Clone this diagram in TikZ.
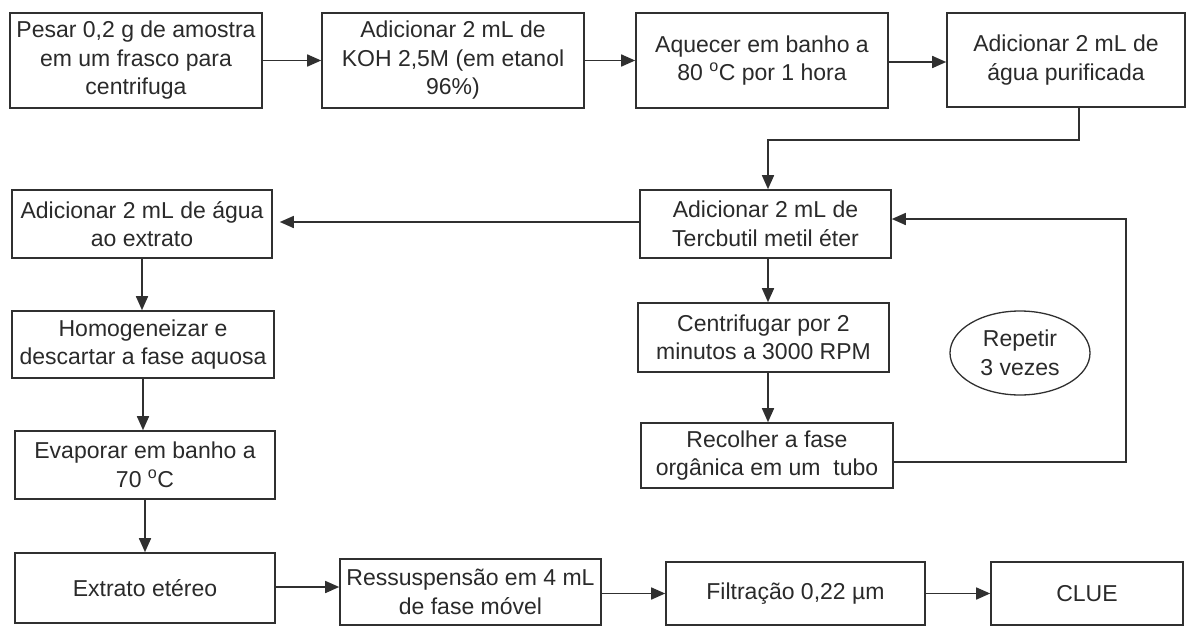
\documentclass[tikz,border=0pt]{standalone}
\usepackage{fontspec}
\setmainfont{Liberation Sans}
\usetikzlibrary{arrows.meta,shapes.geometric,calc}
\definecolor{linegray}{HTML}{303030}
\definecolor{textgray}{HTML}{2A2A2A}
\tikzset{
  stepbox/.style={draw=linegray, line width=1.6pt, rectangle, align=center, inner sep=0pt,
    text=textgray, font=\fontsize{23}{28.5}\selectfont},
  loopnote/.style={draw=linegray, line width=1.3pt, ellipse, align=center, inner sep=0pt,
    text=textgray, font=\fontsize{23}{28.5}\selectfont, minimum width=140pt, minimum height=84pt},
  arr/.style={draw=linegray, line width=1.6pt, -{Triangle[length=14pt,width=12pt]}},
  ln/.style={draw=linegray, line width=1.6pt}
}
\begin{document}
\begin{tikzpicture}[x=1pt,y=-1pt]
\useasboundingbox[fill=white] (0,0) rectangle (1187,627);
% row 1
\node[stepbox, minimum width=252pt, minimum height=95pt] (b1) at (136,60.5) {Pesar 0,2 g de amostra\\em um frasco para\\centrifuga};
\node[stepbox, minimum width=262pt, minimum height=95pt] (b2) at (453,60.5) {Adicionar 2 mL de\\KOH 2,5M (em etanol\\96\%)};
\node[stepbox, minimum width=252pt, minimum height=95pt] (b3) at (762,60.5) {Aquecer em banho a\\80 \textsuperscript{o}C por 1 hora};
\node[stepbox, minimum width=238pt, minimum height=94pt] (b4) at (1066,60) {Adicionar 2 mL de\\água purificada};
% middle right column
\node[stepbox, minimum width=251pt, minimum height=68pt] (b5) at (765.5,224) {Adicionar 2 mL de\\Tercbutil metil éter};
\node[stepbox, minimum width=251pt, minimum height=69pt] (b7) at (763.5,337.5) {Centrifugar por 2\\minutos a 3000 RPM};
\node[stepbox, minimum width=252pt, minimum height=65pt] (b8) at (767,455.5) {Recolher a fase\\orgânica em um~ tubo};
\node[loopnote] (e) at (1020,353) {Repetir\\3 vezes};
% left column
\node[stepbox, minimum width=260pt, minimum height=68pt] (b6) at (142,224) {Adicionar 2 mL de água\\ao extrato};
\node[stepbox, minimum width=262pt, minimum height=67pt] (b9) at (143,344.5) {Homogeneizar e\\descartar a fase aquosa};
\node[stepbox, minimum width=260pt, minimum height=68pt] (b10) at (145,465) {Evaporar em banho a\\70 \textsuperscript{o}C};
\node[stepbox, minimum width=260pt, minimum height=70pt] (b11) at (145,588) {Extrato etéreo};
% bottom row
\node[stepbox, minimum width=261pt, minimum height=66pt] (b12) at (470.5,592) {Ressuspensão em 4 mL\\de fase móvel};
\node[stepbox, minimum width=259pt, minimum height=63pt] (b13) at (795.5,593.5) {Filtração 0,22 µm};
\node[stepbox, minimum width=192pt, minimum height=63pt] (b14) at (1087,593.5) {CLUE};
% helper coordinates
\coordinate (k1) at (1079,140);
\coordinate (k2) at (768,140);
\coordinate (r1) at (1126,462);
\coordinate (r2) at (1126,219);
\coordinate (a6) at (0,222);
% connectors row 1
\draw[arr] (b1.east) -- (b2.west |- b1.east);
\draw[arr] (b2.east) -- (b3.west |- b2.east);
\draw[arr] ([yshift=-1.5pt]b3.east) -- ([yshift=-1.5pt]b3.east -| b4.west);
\draw[arr] (b4.south -| k1) -- (k1) -- (k2) -- (b5.north -| k2);
% middle
\draw[arr, shorten >=7pt] (b5.west |- a6) -- (b6.east |- a6);
\draw[arr] (b5.south -| k2) -- (b7.north -| k2);
\draw[arr] (b7.south -| k2) -- (b8.north -| k2);
\draw[arr] (b8.east |- r1) -- (r1) -- (r2) -- (b5.east |- r2);
% left column
\draw[arr] (b6.south) -- (b6.south |- b9.north);
\draw[arr] (b9.south) -- (b9.south |- b10.north);
\draw[arr] (b10.south) -- (b10.south |- b11.north);
% bottom row
\draw[arr] ([yshift=1pt]b11.east) -- ([yshift=1pt]b11.east -| b12.west);
\draw[arr] (b12.east |- b13.west) -- (b13.west);
\draw[arr] (b13.east) -- (b14.west);
\end{tikzpicture}
\end{document}
